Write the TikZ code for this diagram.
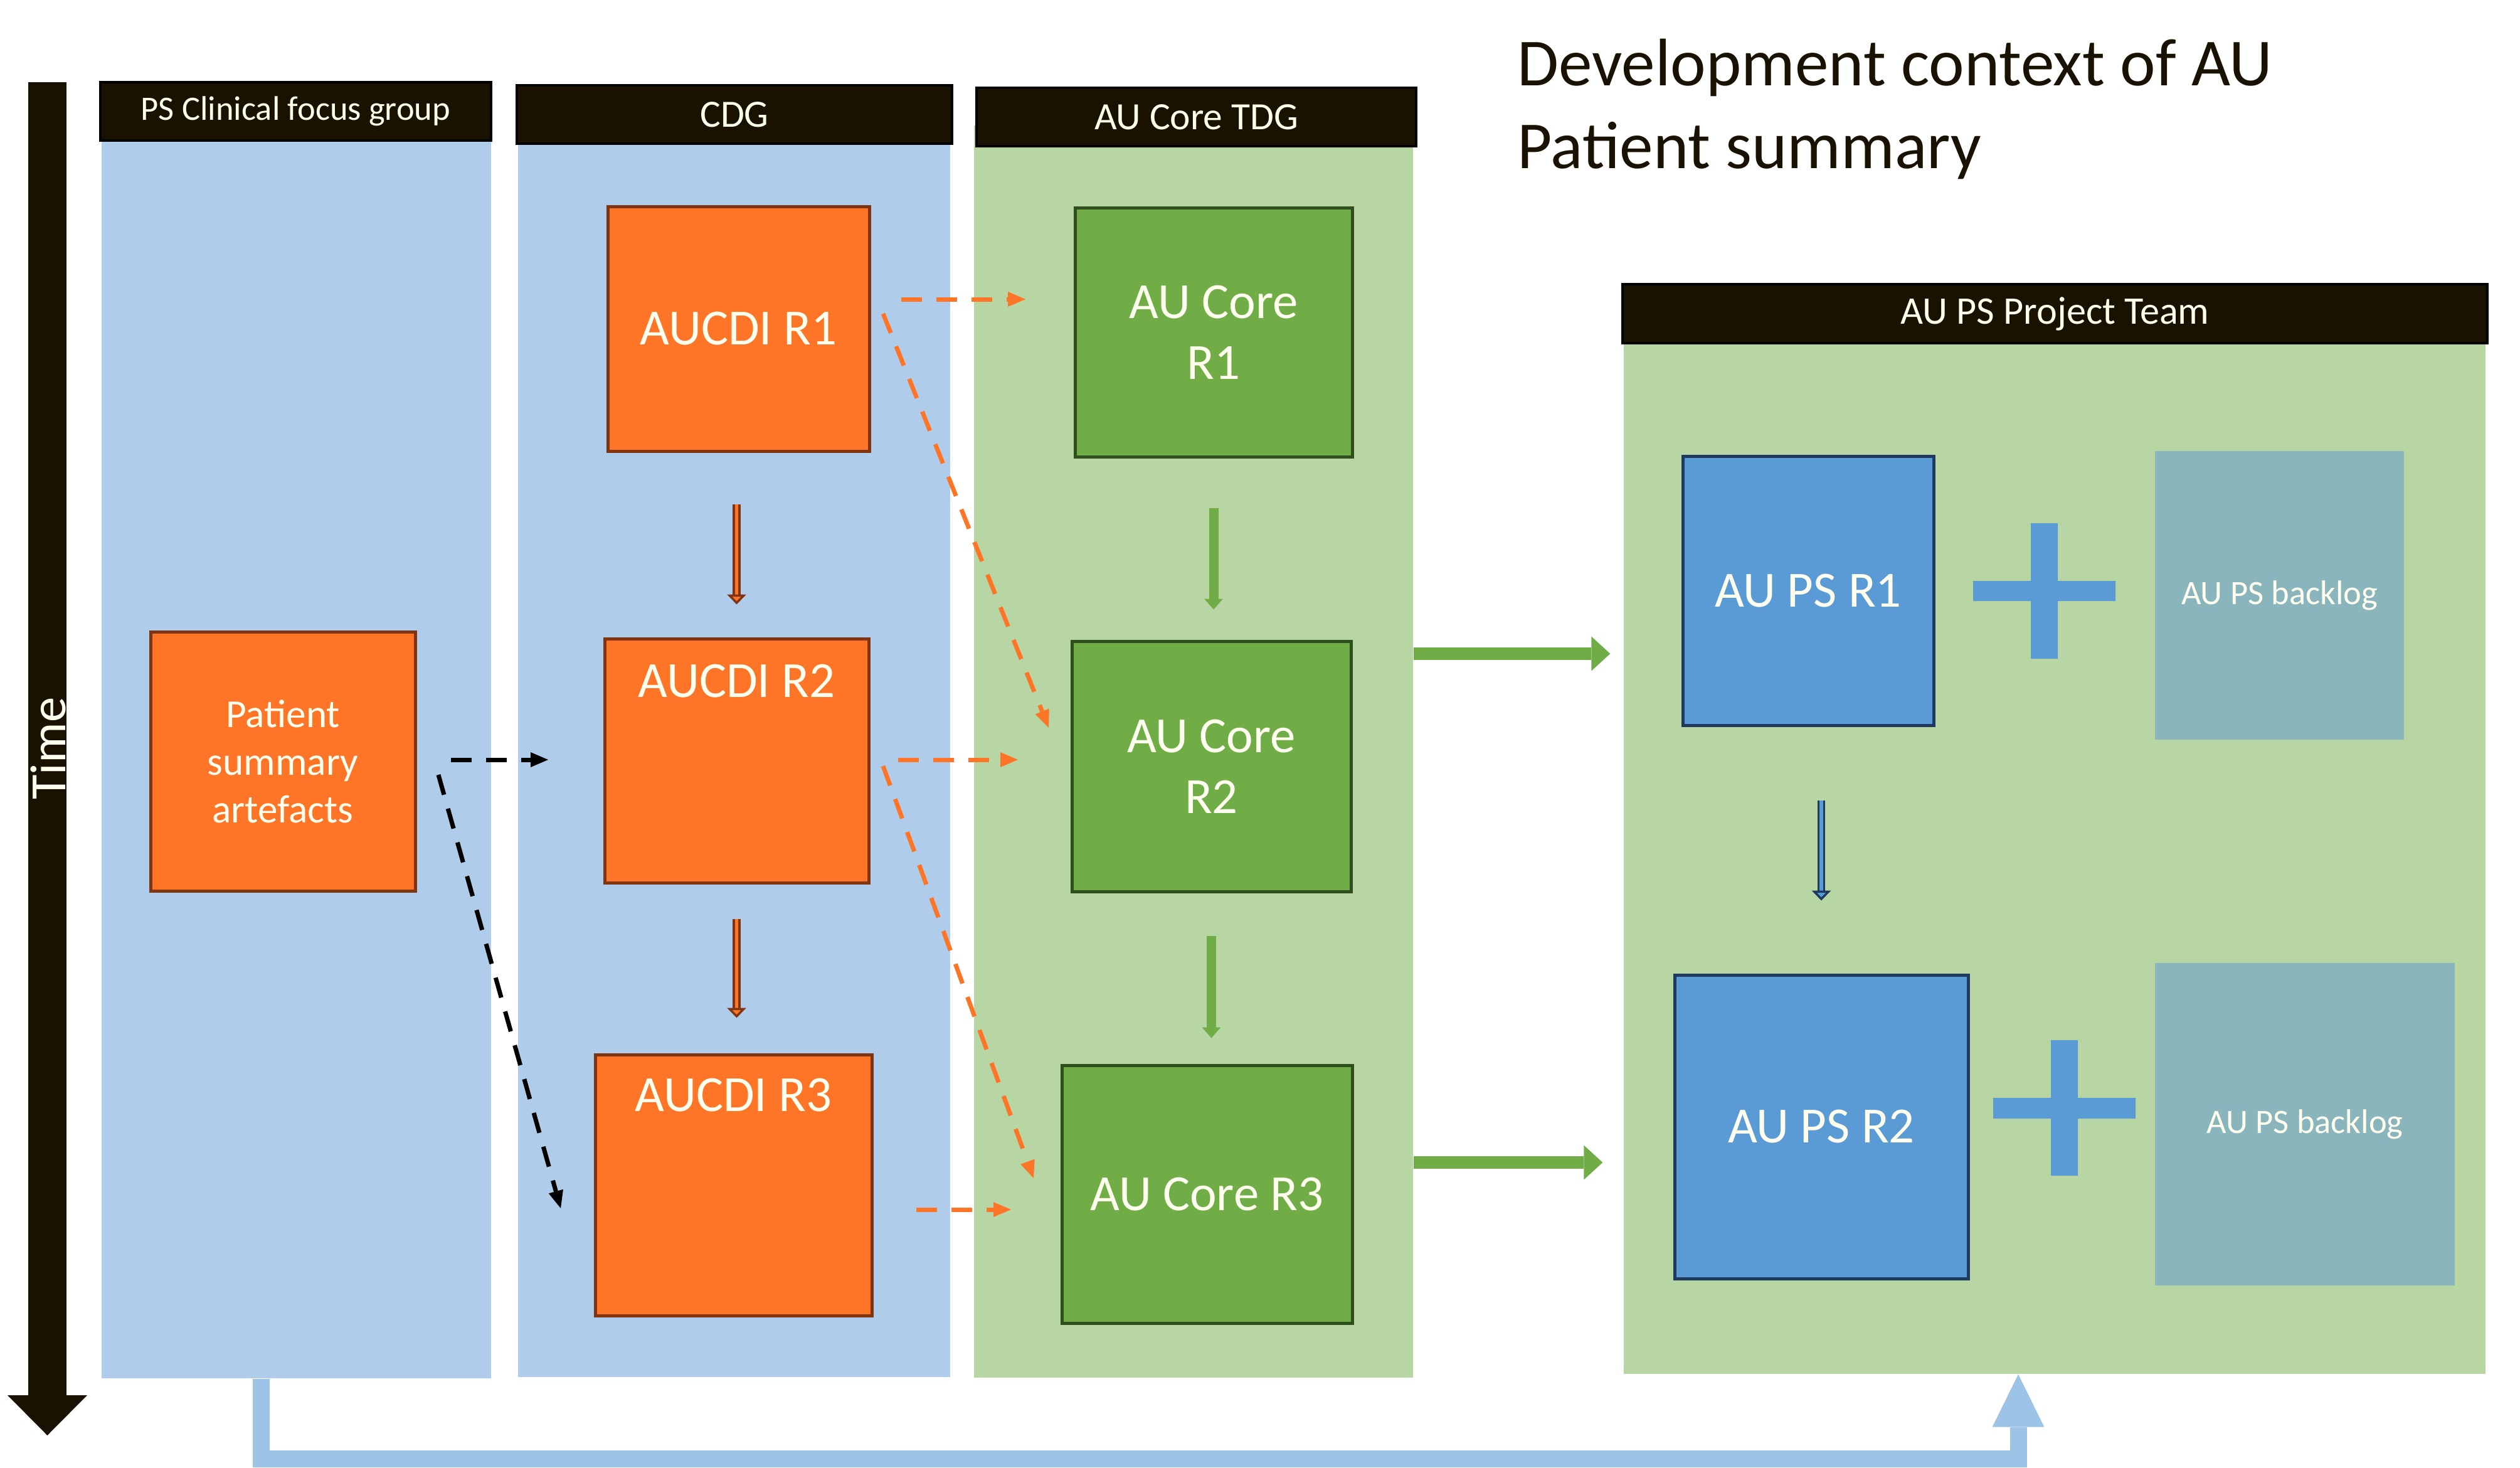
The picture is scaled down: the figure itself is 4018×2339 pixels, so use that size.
\documentclass[tikz,border=0pt]{standalone}
\usepackage{fontspec}
\setmainfont{Carlito}
\usepackage{xcolor}
\usetikzlibrary{positioning, arrows.meta}

\definecolor{laneblue}{HTML}{AFCDEA}
\definecolor{lanegreen}{HTML}{B8D6A4}
\definecolor{headbar}{HTML}{1A1200}
\definecolor{cdiorange}{HTML}{FF7528}
\definecolor{cdiedge}{HTML}{7F3510}
\definecolor{coregreen}{HTML}{70AD47}
\definecolor{coreedge}{HTML}{2F4F1F}
\definecolor{psblue}{HTML}{5B9BD5}
\definecolor{psedge}{HTML}{1F3A5F}
\definecolor{backlogteal}{HTML}{8BB5BC}
\definecolor{feedblue}{HTML}{9DC3E6}
\definecolor{cream}{HTML}{FFFFF0}

\begin{document}
\begin{tikzpicture}[x=0.1mm, y=-0.1mm,
    lane/.style={rectangle, inner sep=0, fill=#1},
    header/.style={rectangle, draw=black, line width=0.4mm, fill=headbar, text=cream, inner sep=0, minimum height=9.3mm},
    cdibox/.style={rectangle, draw=cdiedge, line width=0.5mm, fill=cdiorange, text=cream, inner sep=0, align=center, font=\fontsize{23}{27.6}\selectfont},
    corebox/.style={rectangle, draw=coreedge, line width=0.5mm, fill=coregreen, text=cream, inner sep=0, align=center, font=\fontsize{23}{27.6}\selectfont},
    psbox/.style={rectangle, draw=psedge, line width=0.5mm, fill=psblue, text=cream, inner sep=0, font=\fontsize{23}{27.6}\selectfont},
    backlogbox/.style={rectangle, fill=backlogteal, text=cream, inner sep=0, font=\fontsize{15.5}{18}\selectfont},
    toplabel/.style={inner sep=0, text=cream, anchor=north, font=\fontsize{23}{27.6}\selectfont},
    cdistep/.style={draw=cdiedge, line width=0.35mm, double=cdiorange, double distance=0.55mm, -{Triangle[length=1.6mm, width=3mm, fill=cdiorange]}},
    psstep/.style={draw=psedge, line width=0.35mm, double=psblue, double distance=0.55mm, -{Triangle[length=1.6mm, width=3mm, fill=psblue]}},
    corestep/.style={draw=coregreen, line width=1.5mm, -{Triangle[length=1.7mm, width=3mm, line width=0pt]}},
    handover/.style={draw=#1, line width=0.7mm, dash pattern=on 3.3mm off 2.3mm, -{Triangle[length=2.8mm, width=2.4mm, line width=0pt]}},
    bigarrow/.style={draw=coregreen, line width=2mm, -{Triangle[length=3mm, width=5.5mm, line width=0pt]}},
    feedback/.style={draw=feedblue, line width=2.7mm, -{Triangle[length=8.4mm, width=8.3mm, line width=0pt]}},
    timeline/.style={draw=headbar, line width=6.1mm, -{Triangle[length=6.4mm, width=12.7mm, line width=0pt]}}
  ]
  \useasboundingbox (0,0) rectangle (4018,2339);

  % Swim lanes
  \node[lane=laneblue, minimum width=62.1mm, minimum height=197.3mm] (lanePS) at (472.5,1210.5) {};
  \node[lane=laneblue, minimum width=68.9mm, minimum height=196.6mm] (laneCDG) at (1170.5,1212) {};
  \node[lane=lanegreen, minimum width=70mm, minimum height=199.6mm] (laneTDG) at (1903,1198) {};
  \node[lane=lanegreen, minimum width=137.4mm, minimum height=164.3mm] (laneTeam) at (3276,1368.5) {};

  % Feedback from the clinical group to the project team
  \coordinate (feedturn) at (3218,2325);
  \draw[feedback] (lanePS.south -| 416,0) |- (feedturn) -- (laneTeam.south -| feedturn);

  % Lane headers
  \node[header, minimum width=62.3mm, font=\fontsize{15.5}{18}\selectfont] (hdPS) at (471.5,177.5) {PS Clinical focus group};
  \node[header, minimum width=69.4mm, font=\fontsize{17.5}{20}\selectfont] (hdCDG) at (1171,182.5) {CDG};
  \node[header, minimum width=70.1mm, font=\fontsize{17.5}{20}\selectfont] (hdTDG) at (1907.5,186.5) {AU Core TDG};
  \node[header, minimum width=137.9mm, minimum height=9.4mm, font=\fontsize{17.7}{20}\selectfont] (hdTeam) at (3276.5,500) {AU PS Project Team};

  % Title
  \node[anchor=north west, align=left, inner sep=0, text=headbar, font=\fontsize{30.5}{37.6}\selectfont] (title) at (2419,61) {Development context of AU\\Patient summary};

  % Time axis
  \coordinate (timeTop) at (75.5,131);
  \coordinate (timeTip) at (75.5,2288);
  \draw[timeline] (timeTop) -- (timeTip);
  \node[rotate=90, inner sep=0, text=cream, font=\fontsize{23}{27}\selectfont] (time) at (77,1193) {Time};

  % Releases
  \node[cdibox, minimum width=42.2mm, minimum height=41.3mm, font=\fontsize{18}{21.6}\selectfont] (psart) at (451,1213.5) {Patient\\summary\\artefacts};
  \node[cdibox, minimum width=41.7mm, minimum height=39mm] (aucdi1) at (1177.5,524) {AUCDI R1};
  \node[cdibox, minimum width=42.1mm, minimum height=38.9mm, label={[toplabel, yshift=-4.3mm]north:AUCDI R2}] (aucdi2) at (1174.5,1212.5) {};
  \node[cdibox, minimum width=44.1mm, minimum height=41.6mm, label={[toplabel, yshift=-4mm]north:AUCDI R3}] (aucdi3) at (1169.5,1889) {};
  \node[corebox, minimum width=44.2mm, minimum height=39.7mm] (core1) at (1935,529.5) {AU Core\\R1};
  \node[corebox, minimum width=44.5mm, minimum height=39.9mm] (core2) at (1931.5,1221.5) {AU Core\\R2};
  \node[corebox, minimum width=46.3mm, minimum height=41.1mm] (core3) at (1924.5,1903.5) {AU Core R3};
  \node[psbox, minimum width=40mm, minimum height=42.9mm] (ps1) at (2883,941.5) {AU PS R1};
  \node[psbox, minimum width=46.8mm, minimum height=48.4mm] (ps2) at (2904,1796) {AU PS R2};
  \node[backlogbox, minimum width=39.7mm, minimum height=46mm] (backlog1) at (3634.5,949) {AU PS backlog};
  \node[backlogbox, minimum width=47.8mm, minimum height=51.4mm] (backlog2) at (3675,1792) {AU PS backlog};

  % Plus signs
  \fill[psblue] (3238,834) rectangle (3281,1050) (3146,926) rectangle (3373,958);
  \fill[psblue] (3270,1658) rectangle (3313,1874) (3178,1750) rectangle (3405,1783);

  % Steps inside the lanes
  \draw[cdistep, shorten <=8.2mm, shorten >=5.2mm] (aucdi2.north |- aucdi1.south) -- (aucdi2.north);
  \draw[cdistep, shorten <=5.5mm, shorten >=5.6mm] (aucdi2.south) -- (aucdi2.south |- aucdi3.north);
  \draw[corestep, shorten <=7.9mm, shorten >=4.8mm] (core1.south) -- (core1.south |- core2.north);
  \draw[corestep, shorten <=6.8mm, shorten >=4.1mm] (core2.south) -- (core2.south |- core3.north);
  \draw[psstep, shorten <=11.7mm, shorten >=11.6mm] (ps2.north |- ps1.south) -- (ps2.north);

  % Dashed hand-overs
  \coordinate (art1) at (719,1211);   \coordinate (cdg2in) at (874,1211);
  \coordinate (art2) at (699,1235);   \coordinate (cdg3in) at (894,1926);
  \coordinate (cdi1a) at (1437,477);  \coordinate (tdg1in) at (1635,477);
  \coordinate (cdi1b) at (1408,500);  \coordinate (tdg2ina) at (1672,1160);
  \coordinate (cdi2a) at (1432,1211); \coordinate (tdg2inb) at (1623,1211);
  \coordinate (cdi2b) at (1408,1221); \coordinate (tdg3ina) at (1648,1878);
  \coordinate (cdi3a) at (1461,1928); \coordinate (tdg3inb) at (1612,1928);
  \draw[handover=black] (art1) -- (cdg2in);
  \draw[handover=black] (art2) -- (cdg3in);
  \draw[handover=cdiorange] (cdi1a) -- (tdg1in);
  \draw[handover=cdiorange] (cdi1b) -- (tdg2ina);
  \draw[handover=cdiorange] (cdi2a) -- (tdg2inb);
  \draw[handover=cdiorange] (cdi2b) -- (tdg3ina);
  \draw[handover=cdiorange] (cdi3a) -- (tdg3inb);

  % Core releases into the project team
  \draw[bigarrow, shorten >=2.1mm] (laneTDG.east |- 0,1042) -- (laneTeam.west |- 0,1042);
  \draw[bigarrow, shorten >=3.3mm] (laneTDG.east |- 0,1853) -- (laneTeam.west |- 0,1853);
\end{tikzpicture}
\end{document}
